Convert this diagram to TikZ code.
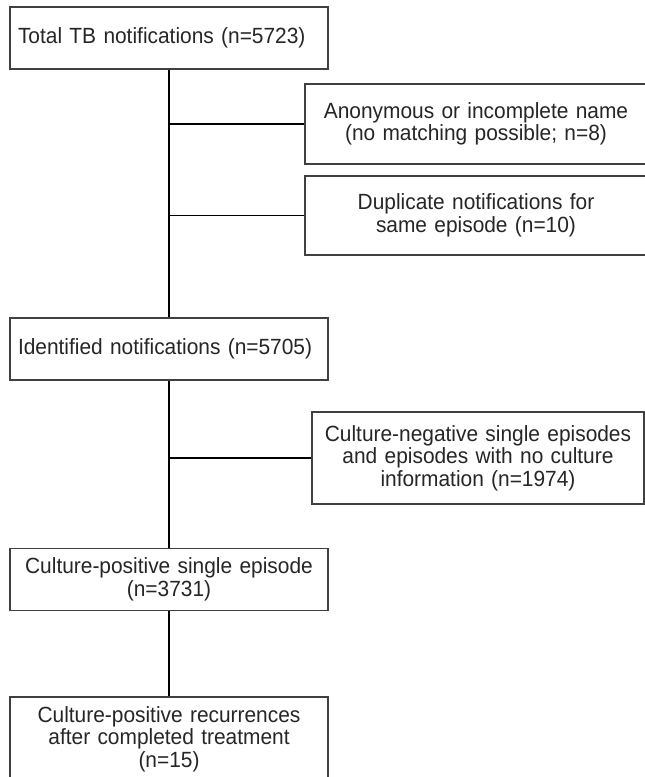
\documentclass[tikz,border=0pt]{standalone}
\usepackage{fontspec}
\setmainfont[FakeStretch=0.95]{Liberation Sans}
\usepackage{tikz}
\usetikzlibrary{positioning}

\begin{document}
\begin{tikzpicture}[-,x=1pt,y=-1pt,line width=1.2pt,
                    font=\fontsize{22}{22.5}\selectfont]
  \tikzstyle{box}=[rectangle,draw=black!75,fill=white,text=black!85,inner xsep=8pt]
  \tikzstyle{mainbox}=[box,minimum width=318pt,minimum height=62pt,text width=302pt]
  \tikzstyle{sidebox}=[box,minimum width=342pt,text width=326pt,align=center]

  \useasboundingbox (0,0) rectangle (645,777);

  \node[mainbox,align=left]   (TOTAL) at (169,38)    {Total TB notifications (n=5723)};
  \node[sidebox,minimum height=80pt] (ANON) at (476,124)
        {Anonymous or incomplete name\\(no matching possible; n=8)};
  \node[sidebox,minimum height=79pt] (DUPL) at (476,215.5)
        {Duplicate notifications for\\same episode (n=10)};
  \node[mainbox,align=left]   (IDENT) at (169,349)   {Identified notifications (n=5705)};
  \node[box,minimum width=332pt,text width=316pt,minimum height=92pt,align=center]
        (NEG) at (478,458)
        {Culture-negative single episodes\\and episodes with no culture\\information (n=1974)};
  \node[mainbox,align=center] (POS) at (169,579.5)
        {Culture-positive single episode\\(n=3731)};
  \node[mainbox,align=center,minimum height=84pt] (REC) at (169,739)
        {Culture-positive recurrences\\after completed treatment\\(n=15)};

  \coordinate (J1) at (TOTAL.south |- ANON.west);
  \coordinate (J2) at (TOTAL.south |- DUPL.west);
  \coordinate (J3) at (IDENT.south |- NEG.west);

  \path (TOTAL) edge (IDENT)
        (J1)    edge (ANON)
        (J2)    edge (DUPL)
        (IDENT) edge (POS)
        (J3)    edge (NEG)
        (POS)   edge (REC);
\end{tikzpicture}
\end{document}
